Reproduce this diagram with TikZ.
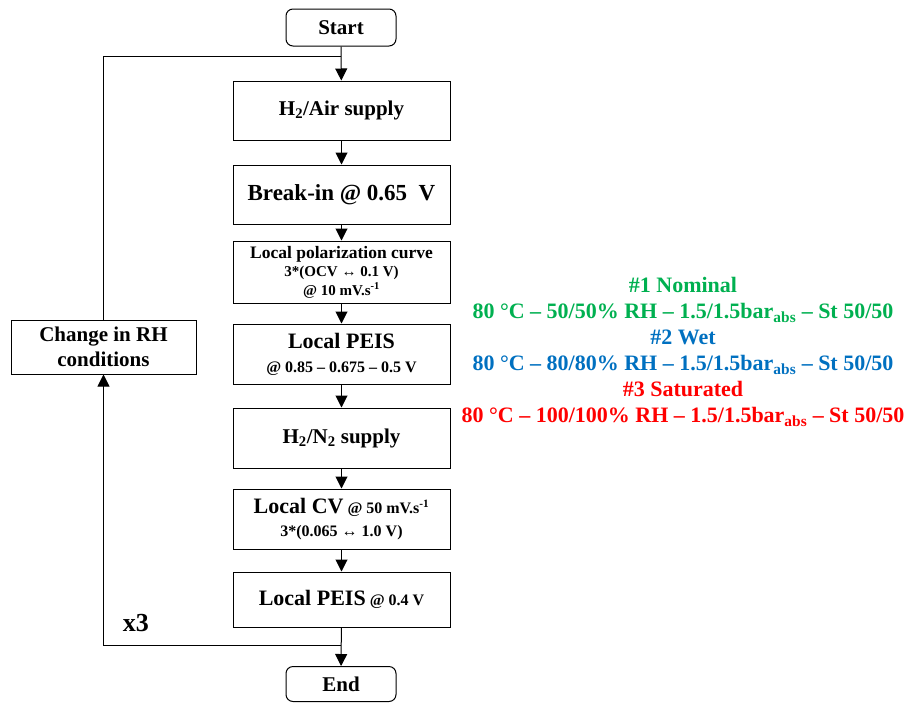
\documentclass[tikz,border=0pt]{standalone}
\usepackage{fontspec}
\setmainfont{Liberation Serif}
\usetikzlibrary{arrows.meta}
\definecolor{cgreen}{RGB}{0,176,80}
\definecolor{cblue}{RGB}{0,112,192}
\definecolor{cred}{RGB}{255,0,0}
\newcommand{\fs}[2]{\fontsize{#1}{#2}\selectfont}
\begin{document}
\begin{tikzpicture}[x=1pt,y=-1pt,
  line width=1pt,
  stepbox/.style={draw, minimum width=217pt, inner sep=0pt, align=center},
  termbox/.style={draw, rounded corners=7pt, minimum width=110pt, inner sep=0pt, align=center},
  arr/.style={-{Triangle[width=12pt,length=12pt]}}]
\useasboundingbox (0,0) rectangle (905,702);
\node[termbox, minimum height=37pt, font=\bfseries\fs{21}{24}] (start) at (341,27.5) {Start};
\node[stepbox, minimum height=59pt, font=\bfseries\fs{21}{25}] (h2air) at (341.5,110.5) {H\textsubscript{2}/Air supply};
\node[stepbox, minimum height=59pt, font=\bfseries\fs{23}{27}] (breakin) at (341.5,194.5) {Break-in @ 0.65 ~V};
\node[stepbox, minimum height=62pt, font=\bfseries\fs{15}{18.5}] (polar) at (341.5,272) {{\fs{17.5}{18.5}Local polarization curve}\\ 3*(OCV ↔ 0.1 V)\\ @ 10 mV.s\textsuperscript{-1}};
\node[stepbox, minimum height=60pt, font=\bfseries\fs{16}{24}] (peisa) at (341.5,354) {{\fs{22}{24}Local PEIS}\\ @ 0.85 – 0.675 – 0.5 V};
\node[stepbox, minimum height=60pt, font=\bfseries\fs{21}{25}] (n2) at (341.5,438) {H\textsubscript{2}/N\textsubscript{2} supply};
\node[stepbox, minimum height=60pt, font=\bfseries\fs{16}{23}] (cv) at (341.5,519) {{\fs{22}{23}Local CV} @ 50 mV.s\textsuperscript{-1}\\ 3*(0.065 ↔ 1.0 V)};
\node[stepbox, minimum height=55pt, font=\bfseries\fs{16}{25}] (peisb) at (341.5,599.5) {{\fs{22}{25}Local PEIS} @ 0.4 V};
\node[termbox, minimum height=35pt, font=\bfseries\fs{21}{24}] (end) at (341,684) {End};
\node[draw, minimum width=185pt, minimum height=54pt, inner sep=0pt, align=center, font=\bfseries\fs{21}{25}] (change) at (103.5,347) {Change in RH\\ conditions};
\node[font=\bfseries\fs{26}{30}, anchor=west] (x3) at (119,623) {x3};
\node[font=\bfseries\fs{22}{26}, align=center] (cond) at (683,352) {%
\textcolor{cgreen}{\#1 Nominal}\\
\textcolor{cgreen}{80 °C – 50/50\% RH – 1.5/1.5bar\textsubscript{abs} – St 50/50}\\
\textcolor{cblue}{\#2 Wet}\\
\textcolor{cblue}{80 °C – 80/80\% RH – 1.5/1.5bar\textsubscript{abs} – St 50/50}\\
\textcolor{cred}{\#3 Saturated}\\
\textcolor{cred}{80 °C – 100/100\% RH – 1.5/1.5bar\textsubscript{abs} – St 50/50}};
\coordinate (j1) at (341,56);
\coordinate (j2) at (341,645);
\draw[arr] (start) -- (h2air);
\draw[arr] (h2air) -- (breakin);
\draw[arr] (breakin) -- (polar);
\draw[arr] (polar) -- (peisa);
\draw[arr] (peisa) -- (n2);
\draw[arr] (n2) -- (cv);
\draw[arr] (cv) -- (peisb);
\draw[arr] (peisb) -- (end);
\draw (change.north) |- (j1);
\draw[arr] (j2) -| (change.south);
\end{tikzpicture}
\end{document}
